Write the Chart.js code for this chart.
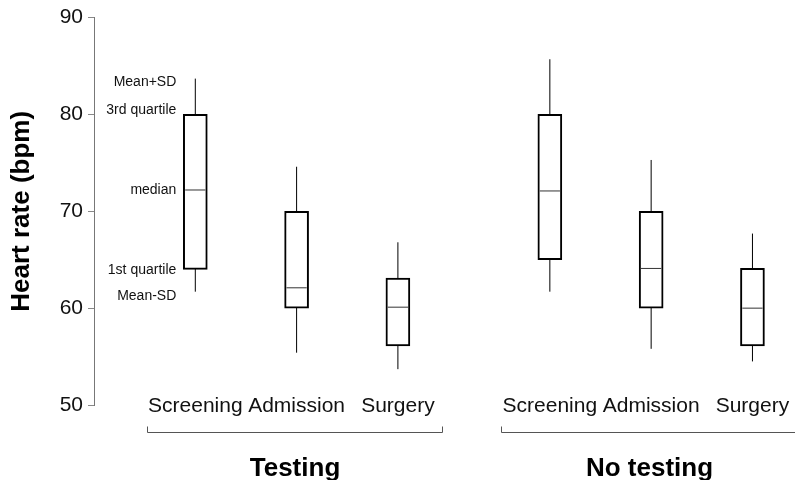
<!DOCTYPE html>
<html>
<head>
<meta charset="utf-8">
<script src="https://cdn.jsdelivr.net/npm/chart.js@4/dist/chart.umd.min.js"></script>
<style>
  html, body { margin: 0; padding: 0; background: #fff; }
  #wrap { width: 795px; height: 480px; }
</style>
</head>
<body>
<div id="wrap"><canvas id="c" width="795" height="480"></canvas></div>
<script>
// Heart rate by stage, with and without testing
const groups = ['Testing', 'No testing'];
const stages = ['Screening', 'Admission', 'Surgery'];

// one entry per box, in order: Testing (3 stages), then No testing (3 stages)
const lowSD    = [61.7, 55.4, 53.7, 61.7, 55.8, 54.5];   // Mean-SD
const q1       = [64.0, 60.0, 56.1, 65.0, 60.0, 56.1];   // 1st quartile
const median   = [72.2, 62.1, 60.1, 72.1, 64.1, 60.0];
const q3       = [80.0, 70.0, 63.1, 80.0, 70.0, 64.1];   // 3rd quartile
const highSD   = [83.7, 74.6, 66.8, 85.7, 75.3, 67.7];   // Mean+SD

const yTicks = [50, 60, 70, 80, 90];
const keyLabels = ['Mean+SD', '3rd quartile', 'median', '1st quartile', 'Mean-SD'];

// x position of each box: stages one unit apart, an extra half unit between groups
const positions = [];
const tickNames = [];
groups.forEach((g, gi) => stages.forEach((s, si) => {
  positions.push(gi * 3.5 + si);
  tickNames.push(s);
}));

const MED_HALF = 0.1;
const boxData = positions.map((x, i) => ({ x: x, y: [q1[i], q3[i]] }));
const whiskerData = [];
const medianData = [];
positions.forEach((x, i) => {
  whiskerData.push({ x: x, y: lowSD[i] }, { x: x, y: highSD[i] }, { x: x, y: null });
  medianData.push({ x: x - MED_HALF, y: median[i] }, { x: x + MED_HALF, y: median[i] }, { x: x, y: null });
});

const FONT = "'Liberation Sans', Arial, Helvetica, sans-serif";
Chart.defaults.font.family = FONT;

// bracket and group name under each group, plus the key beside the first box
const decorations = {
  id: 'decorations',
  afterDraw(chart) {
    const ctx = chart.ctx;
    const xs = chart.scales.x, ys = chart.scales.y;
    const bottom = chart.chartArea.bottom;
    ctx.save();
    groups.forEach((g, gi) => {
      const first = positions[gi * stages.length];
      const last = positions[gi * stages.length + stages.length - 1];
      const x1 = Math.round(xs.getPixelForValue(first - 0.48)) + 0.5;
      const x2 = Math.round(xs.getPixelForValue(last + 0.44)) + 0.5;
      const y = Math.round(bottom + 27) + 0.5;
      ctx.strokeStyle = '#555';
      ctx.lineWidth = 1;
      ctx.beginPath();
      ctx.moveTo(x1, y - 6);
      ctx.lineTo(x1, y);
      ctx.lineTo(x2, y);
      ctx.lineTo(x2, y - 6);
      ctx.stroke();
      ctx.fillStyle = '#000';
      ctx.font = 'bold 26px ' + FONT;
      ctx.textAlign = 'center';
      ctx.textBaseline = 'alphabetic';
      ctx.fillText(g, (x1 + x2) / 2, bottom + 71);
    });
    // key for the first box
    const keyVals = [highSD[0], q3[0], median[0], q1[0], lowSD[0]];
    const nudge = [4, -4, 0, 1, 4];
    const kx = xs.getPixelForValue(positions[0]) - 19;
    ctx.font = '14px ' + FONT;
    ctx.fillStyle = '#111';
    ctx.textAlign = 'right';
    ctx.textBaseline = 'middle';
    keyLabels.forEach((t, i) => {
      ctx.fillText(t, kx, ys.getPixelForValue(keyVals[i]) + nudge[i]);
    });
    ctx.restore();
  }
};

new Chart(document.getElementById('c'), {
  type: 'bar',
  data: {
    datasets: [
      {
        type: 'line',
        data: medianData,
        borderColor: '#333',
        borderWidth: 1,
        pointRadius: 0,
        spanGaps: false,
        order: 0
      },
      {
        type: 'bar',
        data: boxData,
        backgroundColor: '#fff',
        borderColor: '#000',
        borderWidth: 2,
        borderSkipped: false,
        barThickness: 24,
        order: 1
      },
      {
        type: 'line',
        data: whiskerData,
        borderColor: '#000',
        borderWidth: 1,
        pointRadius: 0,
        spanGaps: false,
        order: 2
      }
    ]
  },
  options: {
    responsive: false,
    animation: false,
    layout: { padding: { top: 17, left: 0, right: 0, bottom: 0 } },
    plugins: { legend: { display: false }, tooltip: { enabled: false } },
    scales: {
      x: {
        type: 'linear',
        offset: false,
        min: -1,
        max: 5.92,
        grid: { display: false, drawTicks: false, offset: false },
        border: { display: false },
        afterBuildTicks: (s) => { s.ticks = positions.map(v => ({ value: v })); },
        afterFit: (s) => { s.height = 75; },
        ticks: {
          autoSkip: false,
          maxRotation: 0,
          mirror: true,
          padding: -14,
          color: '#111',
          font: { size: 21 },
          callback: (v, i) => tickNames[i]
        }
      },
      y: {
        min: 50,
        max: 90,
        afterBuildTicks: (s) => { s.ticks = yTicks.map(v => ({ value: v })); },
        afterFit: (s) => { s.width = 94; },
        grid: { drawOnChartArea: false, drawTicks: true, tickLength: 6, color: '#888' },
        border: { color: '#777', width: 1 },
        ticks: { padding: 5, color: '#111', font: { size: 21 } },
        title: {
          display: true,
          text: 'Heart rate (bpm)',
          color: '#000',
          font: { size: 26, weight: 'bold' },
          padding: { top: 6, bottom: 0 }
        }
      }
    }
  },
  plugins: [decorations]
});
</script>
</body>
</html>
